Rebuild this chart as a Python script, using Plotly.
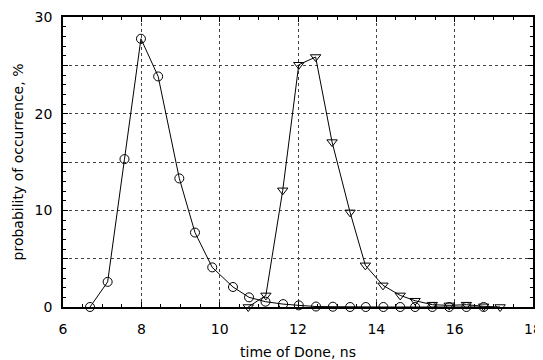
import plotly.graph_objects as go

circle_x = [6.69, 7.14, 7.57, 7.99, 8.43, 8.97, 9.37, 9.81, 10.34, 10.75, 11.17, 11.62,
            12.02, 12.46, 12.89, 13.33, 13.73, 14.18, 14.61, 14.99, 15.43, 15.86, 16.30, 16.74]
circle_y = [0.0, 2.6, 15.3, 27.75, 23.85, 13.3, 7.7, 4.1, 2.07, 1.0, 0.55, 0.3,
            0.17, 0.05, 0.03, 0.0, 0.0, 0.0, 0.0, 0.0, 0.0, 0.0, 0.0, 0.0]

tri_x = [10.73, 11.18, 11.61, 12.02, 12.45, 12.87, 13.33, 13.72, 14.17, 14.61, 14.99,
         15.43, 15.86, 16.30, 16.74, 17.16]
tri_y = [0.0, 1.2, 12.07, 25.06, 25.86, 17.06, 9.79, 4.31, 2.24, 1.2, 0.65,
         0.24, 0.17, 0.24, 0.07, 0.0]

x_ticks = [6, 8, 10, 12, 14, 16, 18]
y_ticks = [0, 5, 10, 15, 20, 25, 30]
y_labels = ["0", "", "10", "", "20", "", "30"]

FONT = "DejaVu Sans, Arial, sans-serif"

fig = go.Figure()
fig.add_trace(go.Scatter(
    x=circle_x, y=circle_y, mode="lines+markers",
    line=dict(color="black", width=1),
    marker=dict(symbol="circle-open", size=9, color="black", line=dict(width=1)),
    cliponaxis=False, showlegend=False))
fig.add_trace(go.Scatter(
    x=tri_x, y=tri_y, mode="lines+markers",
    line=dict(color="black", width=1),
    marker=dict(symbol="triangle-down-open", size=9, color="black", line=dict(width=1)),
    cliponaxis=False, showlegend=False))

grid = dict(showgrid=True, gridcolor="#444", griddash="dot", gridwidth=1)

fig.update_layout(
    xaxis=dict(
        range=[6, 18], tickvals=x_ticks, ticktext=[str(v) for v in x_ticks], **grid,
        ticks="inside", ticklen=5, tickcolor="black", automargin=False,
        ticklabelstandoff=8,
        showline=True, linecolor="black", linewidth=1.5, zeroline=False,
        minor=dict(dtick=0.5, tick0=6, ticks="inside", ticklen=3, tickcolor="black", showgrid=False),
        tickfont=dict(family=FONT, size=14, color="black"),
        title=dict(text="time of Done, ns", font=dict(family=FONT, size=14, color="black"), standoff=12),
    ),
    yaxis=dict(
        range=[0, 30], tickvals=y_ticks, ticktext=y_labels, **grid,
        ticks="inside", ticklen=5, tickcolor="black", automargin=False,
        ticklabelstandoff=6,
        showline=True, linecolor="black", linewidth=1.5, zeroline=False,
        minor=dict(dtick=1, tick0=0, ticks="inside", ticklen=3, tickcolor="black", showgrid=False),
        tickfont=dict(family=FONT, size=14, color="black"),
        title=dict(text="probability of occurrence, %", font=dict(family=FONT, size=14, color="black"), standoff=8),
    ),
    xaxis2=dict(
        overlaying="x", side="top", matches="x", range=[6, 18], tickvals=x_ticks,
        showticklabels=False, showgrid=False, zeroline=False, automargin=False,
        ticks="inside", ticklen=5, tickcolor="black",
        showline=True, linecolor="black", linewidth=1.5,
        minor=dict(dtick=0.5, tick0=6, ticks="inside", ticklen=3, tickcolor="black", showgrid=False),
    ),
    yaxis2=dict(
        overlaying="y", side="right", matches="y", range=[0, 30], tickvals=y_ticks,
        showticklabels=False, showgrid=False, zeroline=False, automargin=False,
        ticks="inside", ticklen=5, tickcolor="black",
        showline=True, linecolor="black", linewidth=1.5,
        minor=dict(dtick=1, tick0=0, ticks="inside", ticklen=3, tickcolor="black", showgrid=False),
    ),
    # page has an 8px body margin, so the figure is 8px smaller and offset
    width=535, height=352,
    margin=dict(l=55, r=10, t=9, b=53),
    paper_bgcolor="white", plot_bgcolor="white",
    font=dict(family=FONT, color="black"),
)
# invisible trace to activate the mirrored tick axes
fig.add_trace(go.Scatter(x=[None], y=[None], xaxis="x2", yaxis="y2",
                         showlegend=False, hoverinfo="skip"))
fig.write_html("out.html")
